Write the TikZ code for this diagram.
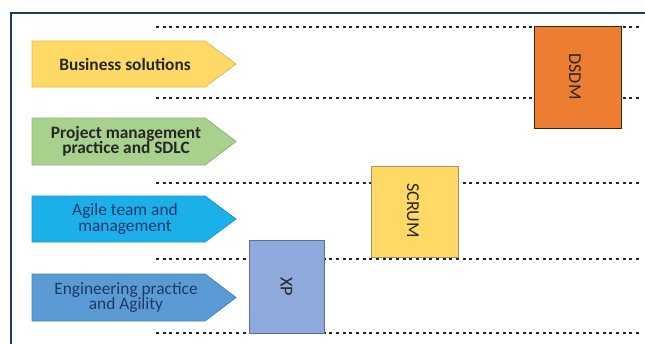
\documentclass[tikz,border=0pt]{standalone}
\usepackage{fontspec}
\setmainfont{Carlito}
\definecolor{framenavy}{HTML}{1F3864}
\definecolor{bizfill}{HTML}{FFD966}
\definecolor{bizline}{HTML}{D9B95A}
\definecolor{pmfill}{HTML}{A9D18E}
\definecolor{pmline}{HTML}{8CB474}
\definecolor{agfill}{HTML}{1CB0EB}
\definecolor{agline}{HTML}{1A95C8}
\definecolor{engfill}{HTML}{5B9BD5}
\definecolor{engline}{HTML}{4A83BA}
\definecolor{xpfill}{HTML}{8EA9DB}
\definecolor{xpline}{HTML}{5A6F99}
\definecolor{scfill}{HTML}{FFD966}
\definecolor{scline}{HTML}{A39466}
\definecolor{dsfill}{HTML}{ED7D31}
\definecolor{dsline}{HTML}{3A2718}
\definecolor{darktext}{HTML}{262626}
\definecolor{navytext}{HTML}{203864}
\begin{document}
\begin{tikzpicture}[x=0.75pt,y=-0.75pt,
  frameline/.style={draw=framenavy,line width=1.9pt},
  laneline/.style={draw=black!85,line width=1.6pt,dash pattern=on 2.2pt off 2.8pt},
  tagshape/.style={line width=0.6pt},
  taglabel/.style={align=center,font=\fontsize{13}{11.5}\selectfont,inner sep=0pt},
  boldlabel/.style={taglabel,font=\fontsize{13}{11.5}\selectfont\bfseries,text=darktext},
  methodbox/.style={line width=0.7pt},
  methodlabel/.style={rotate=-90,font=\fontsize{13.6}{15}\selectfont,text=darktext,inner sep=0pt}]
\useasboundingbox[fill=white] (0,0) rectangle (645,343);

% outer frame (open to the right and bottom)
\draw[frameline] (11,350) -- (11,13) -- (650,13);

% dotted lane separators
\foreach \yy/\nm in {27/la,98/lb,183/lc,259/ld,333/le}{
  \coordinate (\nm w) at (156,\yy);
  \coordinate (\nm e) at (640,\yy);
  \draw[laneline] (\nm w) -- (\nm e);
}

% lane tags
\path[tagshape,fill=bizfill,draw=bizline] (32,41) -- (205,41) -- (236,64) -- (205,87) -- (32,87) -- cycle;
\node[boldlabel] (biz) at (125,64) {Business solutions};

\path[tagshape,fill=pmfill,draw=pmline] (32,118) -- (205,118) -- (236,141.5) -- (205,165) -- (32,165) -- cycle;
\node[boldlabel] (pm) at (126,141.5) {Project management\\practice and SDLC};

\path[tagshape,fill=agfill,draw=agline] (32,196) -- (205,196) -- (236,219) -- (205,242) -- (32,242) -- cycle;
\node[taglabel,text=navytext] (agile) at (125,219) {Agile team and\\management};

\path[tagshape,fill=engfill,draw=engline] (32,274) -- (205,274) -- (236,297.5) -- (205,321) -- (32,321) -- cycle;
\node[taglabel,text=navytext] (eng) at (126,297.5) {Engineering practice\\and Agility};

% methods
\draw[methodbox,fill=xpfill,draw=xpline] (249,240) rectangle (324,333);
\node[methodlabel] (xp) at (286.5,286.5) {XP};

\draw[methodbox,fill=scfill,draw=scline] (371,166) rectangle (458,257);
\node[methodlabel] (scrum) at (413,210.5) {SCRUM};

\draw[methodbox,fill=dsfill,draw=dsline] (534,26) rectangle (621,128);
\node[methodlabel] (dsdm) at (575,76.5) {DSDM};
\end{tikzpicture}
\end{document}
